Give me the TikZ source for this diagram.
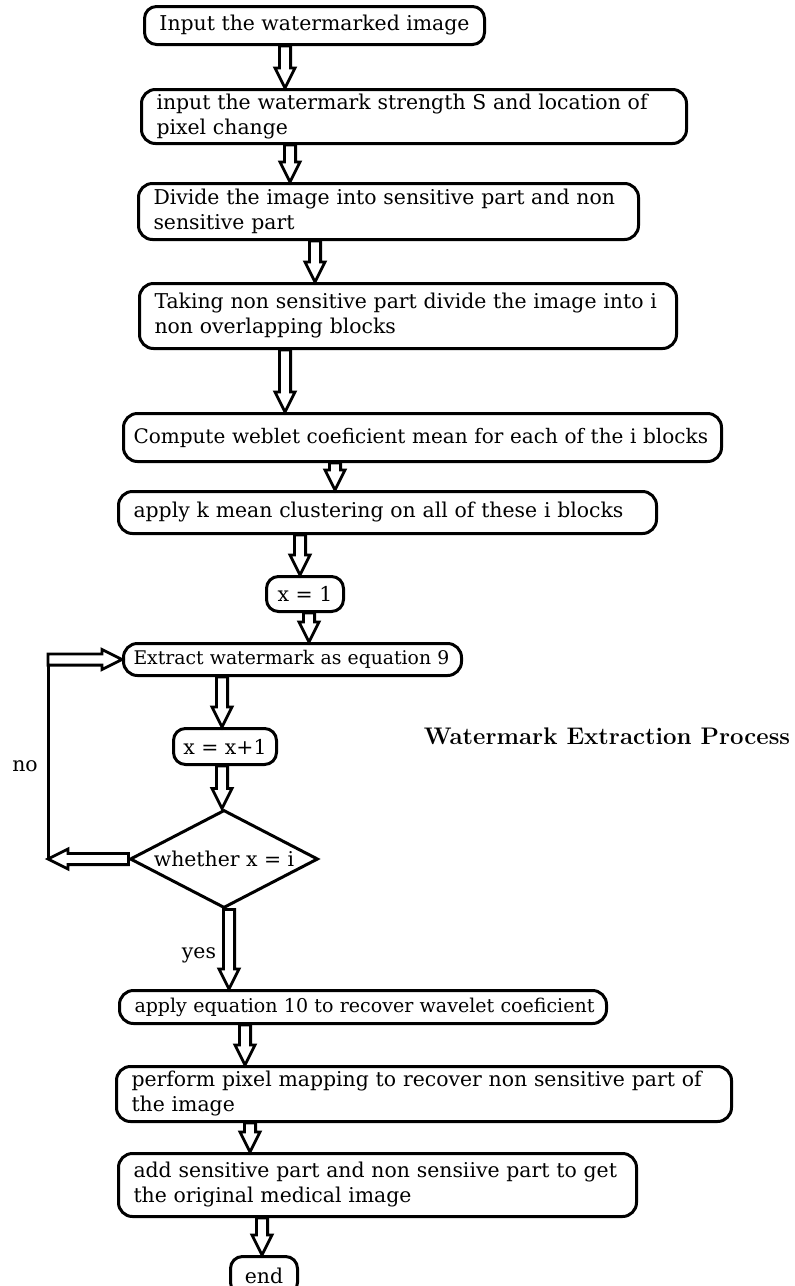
\documentclass[tikz,border=0pt]{standalone}
\usepackage{fontspec}
\newfontfamily\boxfont{DejaVu Serif}
\usetikzlibrary{calc, shapes.geometric}

\begin{document}
\begin{tikzpicture}[
  x=0.5pt, y=-0.5pt,
  every node/.style={font=\boxfont\fontsize{10.2}{12.5}\selectfont},
  stepbox/.style={draw, line width=1.5pt, rounded corners=7pt, fill=white,
    anchor=north west, inner xsep=7.5pt, inner ysep=0pt, align=left},
  smallbox/.style={draw, line width=1.5pt, rounded corners=6pt, fill=white,
    anchor=north west, inner sep=0pt, align=center},
  decision/.style={diamond, draw, line width=1.5pt, fill=white, shape aspect=1.9,
    minimum width=94pt, minimum height=49pt, inner sep=0pt},
  blockarrow/.style={draw, line width=1.4pt, fill=white, line join=miter,
    to path={
      ($(\tikztostart)!2.8pt!90:(\tikztotarget)$) --
      ($(\tikztotarget)!10pt!(\tikztostart)!2.8pt!-90:(\tikztostart)$) --
      ($(\tikztotarget)!10pt!(\tikztostart)!5pt!-90:(\tikztostart)$) --
      (\tikztotarget) --
      ($(\tikztotarget)!10pt!(\tikztostart)!5pt!90:(\tikztostart)$) --
      ($(\tikztotarget)!10pt!(\tikztostart)!2.8pt!90:(\tikztostart)$) --
      ($(\tikztostart)!2.8pt!-90:(\tikztotarget)$) -- cycle}}
]
\useasboundingbox (0,0) rectangle (795,1286);
\clip (0,0) rectangle (795,1286);

\node[smallbox, minimum width=170pt, minimum height=19pt] (in1) at (143,5)
  {Input the watermarked image};
\node[stepbox, text width=257.5pt, minimum height=27pt] (in2) at (140,88)
  {\mbox{input the watermark strength S and location of}\\\mbox{pixel change}};
\node[stepbox, text width=235pt, minimum height=28pt] (div) at (137,182)
  {\mbox{Divide the image into sensitive part and non}\\\mbox{sensitive part}};
\node[stepbox, text width=253.5pt, minimum height=32.5pt] (blk) at (138,282)
  {\mbox{Taking non sensitive part divide the image into i}\\\mbox{non overlapping blocks}};
\node[stepbox, text width=289pt, minimum height=24pt, inner xsep=5pt,
  font=\boxfont\fontsize{10}{12.5}\selectfont] (cmp) at (122,412)
  {\mbox{Compute weblet coeficient mean for each of the i blocks}};
\node[stepbox, text width=254pt, minimum height=21pt] (km) at (117,490)
  {\mbox{apply k mean clustering on all of these i blocks}};
\node[smallbox, minimum width=38.5pt, minimum height=17.5pt] (x1) at (265,575)
  {x = 1};
\node[stepbox, text width=159pt, minimum height=16pt, inner xsep=5pt,
  font=\boxfont\fontsize{9.4}{12}\selectfont] (ext) at (122,642)
  {\mbox{Extract watermark as equation 9}};
\node[smallbox, minimum width=51.5pt, minimum height=18pt] (inc) at (172,727)
  {x = x+1};
\node[decision] (dec) at (224,859) {whether x = i};
\node[stepbox, text width=228.5pt, minimum height=16.5pt,
  font=\boxfont\fontsize{9.5}{12}\selectfont] (eq10) at (118,989)
  {\mbox{apply equation 10 to recover wavelet coeficient}};
\node[stepbox, text width=292.5pt, minimum height=27.5pt] (map) at (115,1065)
  {\mbox{perform pixel mapping to recover non sensitive part of}\\\mbox{the image}};
\node[stepbox, text width=244pt, minimum height=31.5pt] (add) at (117,1152)
  {\mbox{add sensitive part and non sensiive part to get}\\\mbox{the original medical image}};
\node[smallbox, minimum width=33.5pt, minimum height=19pt] (end) at (229,1255)
  {end};

\node (no) at (25,766) {no};
\node (yes) at (199,955) {yes};
\node[font=\bfseries\fontsize{12}{14}\selectfont] (title) at (607,736)
  {Watermark Extraction Process};

\coordinate (loopb) at (48,859);
\coordinate (loopt) at (ext.west -| loopb);

\draw[blockarrow] (in1.south -| 285,0) to (in2.north -| 285,0);
\draw[blockarrow] (in2.south -| 290,0) to (div.north -| 290,0);
\draw[blockarrow] (div.south -| 315,0) to (blk.north -| 315,0);
\draw[blockarrow] (blk.south -| 285,0) to (cmp.north -| 285,0);
\draw[blockarrow] (cmp.south -| 335,0) to (km.north -| 335,0);
\draw[blockarrow] (km.south -| 300,0) to (x1.north -| 300,0);
\draw[blockarrow] (x1.south -| 309,0) to (ext.north -| 309,0);
\draw[blockarrow] (ext.south -| 222,0) to (inc.north -| 222,0);
\draw[blockarrow] (inc.south -| 222,0) to (dec.north -| 222,0);
\draw[blockarrow] (dec.south -| 229,0) to (eq10.north -| 229,0);
\draw[blockarrow] (eq10.south -| 245,0) to (map.north -| 245,0);
\draw[blockarrow] (map.south -| 250,0) to (add.north -| 250,0);
\draw[blockarrow] (add.south -| 262,0) to (end.north -| 262,0);

\draw[blockarrow] (dec.west) to (loopb);
\draw[line width=1.5pt] (loopb) -- (loopt);
\draw[blockarrow] (loopt) to (ext.west);
\end{tikzpicture}
\end{document}
